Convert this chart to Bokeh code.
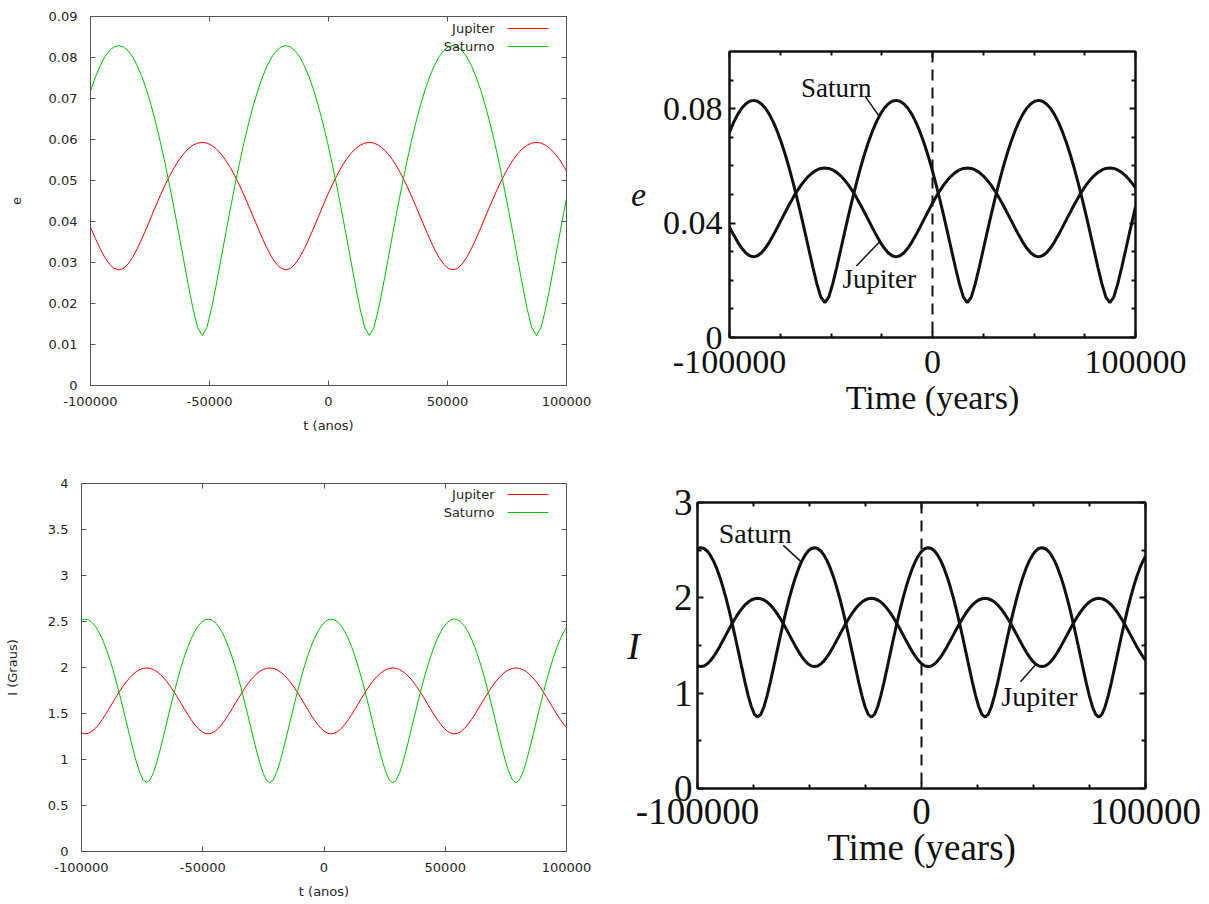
from bokeh.plotting import figure
from bokeh.models import (LinearAxis, FixedTicker, PrintfTickFormatter, Range1d,
                          Label, Arrow, Span)
from bokeh.layouts import column, row
from bokeh.embed import file_html
from bokeh.resources import INLINE

# ---------------- data ----------------
# eccentricity panel: time (years)
e_t = [-100000, -99850, -97900, -95950, -94000, -92050, -90100, -88150,
       -86200, -84250, -82300, -80350, -78400, -76450, -74500, -72550, -70600, -68650,
       -66700, -64750, -62800, -60850, -58900, -56950, -55000, -53050,
       -51100, -49150, -47200, -45250, -43300, -41350, -39400, -37450, -35500, -33550,
       -31600, -29650, -27700, -25750, -23800, -21850, -19900, -17950,
       -16000, -14050, -12100, -10150, -8200, -6250, -4300, -2350, -400, 1550,
       3500, 5450, 7400, 9350, 11300, 13250, 15200, 17150,
       19100, 21050, 23000, 24950, 26900, 28850, 30800, 32750, 34700, 36650,
       38600, 40550, 42500, 44450, 46400, 48350, 50300, 52250,
       54200, 56150, 58100, 60050, 62000, 63950, 65900, 67850, 69800, 71750,
       73700, 75650, 77600, 79550, 81500, 83450, 85400, 87350,
       89300, 91250, 93200, 95150, 97100, 99050, 100000]

e_jupiter = [0.03862,
             0.03841, 0.0358, 0.03337, 0.03127, 0.02962, 0.02857, 0.0282,
             0.02857, 0.02962, 0.03127, 0.03337, 0.0358, 0.03841, 0.04112, 0.04381, 0.04643,
             0.04891, 0.0512, 0.05326, 0.05505, 0.05655, 0.05774, 0.0586, 0.05912, 0.0593,
             0.05912, 0.0586, 0.05774, 0.05655, 0.05505, 0.05326, 0.0512, 0.04891, 0.04643,
             0.04381, 0.04112, 0.03841, 0.0358, 0.03337, 0.03127, 0.02962, 0.02857,
             0.0282,
             0.02857, 0.02962, 0.03127, 0.03337, 0.0358, 0.03841, 0.04112, 0.04381, 0.04643,
             0.04891, 0.0512, 0.05326, 0.05505, 0.05655, 0.05774, 0.0586, 0.05912, 0.0593,
             0.05912, 0.0586, 0.05774, 0.05655, 0.05505, 0.05326, 0.0512, 0.04891, 0.04643,
             0.04381, 0.04112, 0.03841, 0.0358, 0.03337, 0.03127, 0.02962, 0.02857,
             0.0282,
             0.02857, 0.02962, 0.03127, 0.03337, 0.0358, 0.03841, 0.04112, 0.04381, 0.04643,
             0.04891, 0.0512, 0.05326, 0.05505, 0.05655, 0.05774, 0.0586, 0.05912, 0.0593,
             0.05912, 0.0586, 0.05774, 0.05655, 0.05505, 0.05326,
             0.05228]

e_saturn = [0.07178,
            0.07205, 0.07531, 0.07801, 0.08014, 0.08167, 0.08259, 0.0829,
            0.08259, 0.08167, 0.08014, 0.07801, 0.07531, 0.07205, 0.06827, 0.06399, 0.05925,
            0.0541, 0.04859, 0.04277, 0.03674, 0.03058, 0.02448, 0.01875, 0.01414, 0.0122,
            0.01414, 0.01875, 0.02448, 0.03058, 0.03674, 0.04277, 0.04859, 0.0541, 0.05925,
            0.06399, 0.06827, 0.07205, 0.07531, 0.07801, 0.08014, 0.08167, 0.08259,
            0.0829,
            0.08259, 0.08167, 0.08014, 0.07801, 0.07531, 0.07205, 0.06827, 0.06399, 0.05925,
            0.0541, 0.04859, 0.04277, 0.03674, 0.03058, 0.02448, 0.01875, 0.01414, 0.0122,
            0.01414, 0.01875, 0.02448, 0.03058, 0.03674, 0.04277, 0.04859, 0.0541, 0.05925,
            0.06399, 0.06827, 0.07205, 0.07531, 0.07801, 0.08014, 0.08167, 0.08259,
            0.0829,
            0.08259, 0.08167, 0.08014, 0.07801, 0.07531, 0.07205, 0.06827, 0.06399, 0.05925,
            0.0541, 0.04859, 0.04277, 0.03674, 0.03058, 0.02448, 0.01875, 0.01414, 0.0122,
            0.01414, 0.01875, 0.02448, 0.03058, 0.03674, 0.04277,
            0.04566]

# inclination panel: time (years)
i_t = [-100000, -99930, -98520, -97110, -95700, -94290, -92880, -91470, -90060, -88650,
       -87240, -85830, -84420, -83010, -81600, -80190, -78780, -77370, -75960, -74550,
       -73140, -71730, -70320, -68910, -67500, -66090, -64680, -63270, -61860, -60450,
       -59040, -57630, -56220, -54810, -53400, -51990, -50580, -49170, -47760, -46350,
       -44940, -43530, -42120, -40710, -39300, -37890, -36480, -35070, -33660, -32250,
       -30840, -29430, -28020, -26610, -25200, -23790, -22380, -20970, -19560, -18150,
       -16740, -15330, -13920, -12510, -11100, -9690, -8280, -6870, -5460, -4050,
       -2640, -1230, 180, 1590, 3000, 4410, 5820, 7230, 8640, 10050,
       11460, 12870, 14280, 15690, 17100, 18510, 19920, 21330, 22740, 24150,
       25560, 26970, 28380, 29790, 31200, 32610, 34020, 35430, 36840, 38250,
       39660, 41070, 42480, 43890, 45300, 46710, 48120, 49530, 50940, 52350,
       53760, 55170, 56580, 57990, 59400, 60810, 62220, 63630, 65040, 66450,
       67860, 69270, 70680, 72090, 73500, 74910, 76320, 77730, 79140, 80550,
       81960, 83370, 84780, 86190, 87600, 89010, 90420, 91830, 93240, 94650,
       96060, 97470, 98880, 100000]

i_jupiter = [1.2867, 1.2859, 1.279,
             1.2859, 1.3063, 1.339, 1.3821, 1.4334, 1.4906, 1.5515, 1.6138, 1.6757,
             1.7354, 1.7913, 1.8423, 1.8872, 1.9251, 1.9553, 1.9772, 1.9905, 1.995,
             1.9905, 1.9772, 1.9553, 1.9251, 1.8872, 1.8423, 1.7913, 1.7354, 1.6757,
             1.6138, 1.5515, 1.4906, 1.4334, 1.3821, 1.339, 1.3063, 1.2859,
             1.279,
             1.2859, 1.3063, 1.339, 1.3821, 1.4334, 1.4906, 1.5515, 1.6138, 1.6757,
             1.7354, 1.7913, 1.8423, 1.8872, 1.9251, 1.9553, 1.9772, 1.9905, 1.995,
             1.9905, 1.9772, 1.9553, 1.9251, 1.8872, 1.8423, 1.7913, 1.7354, 1.6757,
             1.6138, 1.5515, 1.4906, 1.4334, 1.3821, 1.339, 1.3063, 1.2859,
             1.279,
             1.2859, 1.3063, 1.339, 1.3821, 1.4334, 1.4906, 1.5515, 1.6138, 1.6757,
             1.7354, 1.7913, 1.8423, 1.8872, 1.9251, 1.9553, 1.9772, 1.9905, 1.995,
             1.9905, 1.9772, 1.9553, 1.9251, 1.8872, 1.8423, 1.7913, 1.7354, 1.6757,
             1.6138, 1.5515, 1.4906, 1.4334, 1.3821, 1.339, 1.3063, 1.2859,
             1.279,
             1.2859, 1.3063, 1.339, 1.3821, 1.4334, 1.4906, 1.5515, 1.6138, 1.6757,
             1.7354, 1.7913, 1.8423, 1.8872, 1.9251, 1.9553, 1.9772, 1.9905, 1.995,
             1.9905, 1.9772, 1.9553, 1.9251, 1.8872, 1.8423, 1.7913, 1.7354, 1.6757,
             1.6138, 1.5515, 1.4906, 1.4334, 1.3821,
             1.3471]

i_saturn = [2.5163, 2.5172, 2.526,
            2.5172, 2.491, 2.4476, 2.3874, 2.3111, 2.2193, 2.1132, 1.9939, 1.8628,
            1.7218, 1.5731, 1.4194, 1.2646, 1.1138, 0.9744, 0.8573, 0.777, 0.748,
            0.777, 0.8573, 0.9744, 1.1138, 1.2646, 1.4194, 1.5731, 1.7218, 1.8628,
            1.9939, 2.1132, 2.2193, 2.3111, 2.3874, 2.4476, 2.491, 2.5172,
            2.526,
            2.5172, 2.491, 2.4476, 2.3874, 2.3111, 2.2193, 2.1132, 1.9939, 1.8628,
            1.7218, 1.5731, 1.4194, 1.2646, 1.1138, 0.9744, 0.8573, 0.777, 0.748,
            0.777, 0.8573, 0.9744, 1.1138, 1.2646, 1.4194, 1.5731, 1.7218, 1.8628,
            1.9939, 2.1132, 2.2193, 2.3111, 2.3874, 2.4476, 2.491, 2.5172,
            2.526,
            2.5172, 2.491, 2.4476, 2.3874, 2.3111, 2.2193, 2.1132, 1.9939, 1.8628,
            1.7218, 1.5731, 1.4194, 1.2646, 1.1138, 0.9744, 0.8573, 0.777, 0.748,
            0.777, 0.8573, 0.9744, 1.1138, 1.2646, 1.4194, 1.5731, 1.7218, 1.8628,
            1.9939, 2.1132, 2.2193, 2.3111, 2.3874, 2.4476, 2.491, 2.5172,
            2.526,
            2.5172, 2.491, 2.4476, 2.3874, 2.3111, 2.2193, 2.1132, 1.9939, 1.8628,
            1.7218, 1.5731, 1.4194, 1.2646, 1.1138, 0.9744, 0.8573, 0.777, 0.748,
            0.777, 0.8573, 0.9744, 1.1138, 1.2646, 1.4194, 1.5731, 1.7218, 1.8628,
            1.9939, 2.1132, 2.2193, 2.3111, 2.3874,
            2.4366]

assert len(e_t) == len(e_jupiter) == len(e_saturn), (len(e_t), len(e_jupiter), len(e_saturn))
assert len(i_t) == len(i_jupiter) == len(i_saturn), (len(i_t), len(i_jupiter), len(i_saturn))

# tick values
gp_x_ticks = [-100000, -50000, 0, 50000, 100000]
gp_e_ticks = [0, 0.01, 0.02, 0.03, 0.04, 0.05, 0.06, 0.07, 0.08, 0.09]
gp_i_ticks = [0, 0.5, 1, 1.5, 2, 2.5, 3, 3.5, 4]
sc_x_ticks = [-100000, 0, 100000]
sc_x_minor = [-75000, -50000, -25000, 25000, 50000, 75000]
sc_e_ticks = [0, 0.04, 0.08]
sc_e_minor = [0.01, 0.02, 0.03, 0.05, 0.06, 0.07, 0.09]
sc_i_ticks = [0, 1, 2, 3]
sc_i_minor = [0.5, 1.5, 2.5]

series_names = ["Jupiter", "Saturno"]
paper_names = ["Jupiter", "Saturn"]

GP_TEXT = "#262626"
GP_AXIS = "#555555"
RED = "#ff0000"
GREEN = "#00c000"
INK = "#111111"
SERIF = "Liberation Serif"


def base_fig(fw, fh, ml, mr, mt, mb, yr):
    p = figure(frame_width=fw, frame_height=fh,
               min_border_left=ml, min_border_right=mr,
               min_border_top=mt, min_border_bottom=mb,
               x_range=Range1d(-100000, 100000), y_range=Range1d(*yr),
               x_axis_type=None, y_axis_type=None,
               output_backend="svg", toolbar_location=None)
    p.background_fill_color = "white"
    p.border_fill_color = "white"
    return p


def hide_labels(ax):
    ax.major_label_text_color = None
    ax.major_label_text_font_size = "1px"
    ax.major_label_standoff = 0


def gp_figure(fw, fh, ml, mr, mt, mb, yr, yticks, ylabel):
    p = base_fig(fw, fh, ml, mr, mt, mb, yr)
    p.outline_line_color = GP_AXIS
    p.outline_line_width = 1
    fmt = PrintfTickFormatter(format="%g")
    xb = LinearAxis(ticker=FixedTicker(ticks=gp_x_ticks), formatter=fmt, axis_label="t (anos)")
    yl = LinearAxis(ticker=FixedTicker(ticks=yticks), formatter=fmt, axis_label=ylabel)
    xa = LinearAxis(ticker=FixedTicker(ticks=gp_x_ticks), formatter=fmt)
    yr_ = LinearAxis(ticker=FixedTicker(ticks=yticks), formatter=fmt)
    for ax in (xb, yl, xa, yr_):
        ax.axis_line_color = GP_AXIS
        ax.major_tick_line_color = GP_AXIS
        ax.major_tick_in = 5
        ax.major_tick_out = 0
        ax.minor_tick_line_color = None
        ax.major_label_text_font = "DejaVu Sans"
        ax.major_label_text_font_size = "13px"
        ax.major_label_text_color = GP_TEXT
        ax.axis_label_text_font = "DejaVu Sans"
        ax.axis_label_text_font_size = "13px"
        ax.axis_label_text_font_style = "normal"
        ax.axis_label_text_color = GP_TEXT
    hide_labels(xa)
    hide_labels(yr_)
    xb.major_label_standoff = 11
    xb.axis_label_standoff = 9
    yl.major_label_standoff = 13
    yl.axis_label_standoff = 25
    p.add_layout(xb, "below")
    p.add_layout(yl, "left")
    p.add_layout(xa, "above")
    p.add_layout(yr_, "right")
    return p


def gp_legend(p, tx, ly, lx0, lx1):
    for name, color, yy in ((series_names[0], RED, ly[0]), (series_names[1], GREEN, ly[1])):
        p.add_layout(Label(x=tx, y=yy, x_units="screen", y_units="screen", text=name,
                           text_align="right", text_baseline="middle",
                           text_font="DejaVu Sans", text_font_size="13px",
                           text_color=GP_TEXT))
        p.add_layout(Arrow(x_start=lx0, y_start=yy, x_end=lx1, y_end=yy,
                           start_units="screen", end_units="screen",
                           start=None, end=None, line_color=color, line_width=1))


def sc_figure(fw, fh, ml, mr, mt, mb, yr, yticks, yminor, ylabel, fsize, lsize,
              xstand, xlstand, ystand, ylstand):
    p = base_fig(fw, fh, ml, mr, mt, mb, yr)
    p.outline_line_color = INK
    p.outline_line_width = 2
    fmt = PrintfTickFormatter(format="%g")
    xb = LinearAxis(ticker=FixedTicker(ticks=sc_x_ticks, minor_ticks=sc_x_minor),
                    formatter=fmt, axis_label="Time (years)")
    yl = LinearAxis(ticker=FixedTicker(ticks=yticks, minor_ticks=yminor),
                    formatter=fmt, axis_label=ylabel)
    xa = LinearAxis(ticker=FixedTicker(ticks=sc_x_ticks, minor_ticks=sc_x_minor), formatter=fmt)
    yr_ = LinearAxis(ticker=FixedTicker(ticks=yticks, minor_ticks=yminor), formatter=fmt)
    for ax in (xb, yl, xa, yr_):
        ax.axis_line_color = INK
        ax.axis_line_width = 2
        ax.major_tick_line_color = INK
        ax.major_tick_line_width = 2
        ax.major_tick_in = 6
        ax.major_tick_out = 0
        ax.minor_tick_line_color = INK
        ax.minor_tick_line_width = 2
        ax.minor_tick_in = 4
        ax.minor_tick_out = 0
        ax.major_label_text_font = SERIF
        ax.major_label_text_font_size = fsize
        ax.major_label_text_color = INK
        ax.axis_label_text_font = SERIF
        ax.axis_label_text_font_size = fsize
        ax.axis_label_text_font_style = "normal"
        ax.axis_label_text_color = INK
    hide_labels(xa)
    hide_labels(yr_)
    xb.major_label_standoff = xstand
    xb.axis_label_standoff = xlstand
    yl.major_label_standoff = ystand
    yl.axis_label_standoff = ylstand
    yl.axis_label_orientation = "horizontal"
    yl.axis_label_text_font_style = "italic"
    yl.axis_label_text_font_size = lsize
    p.add_layout(xb, "below")
    p.add_layout(yl, "left")
    p.add_layout(xa, "above")
    p.add_layout(yr_, "right")
    p.add_layout(Span(location=0, dimension="height", line_color=INK,
                      line_width=2, line_dash="11 7"))
    return p


def sc_note(p, text, tx, ty, x0, y0, x1, y1, size):
    p.add_layout(Label(x=tx, y=ty, text=text, text_align="center",
                       text_baseline="middle", text_font=SERIF,
                       text_font_size=size, text_color=INK))
    p.add_layout(Arrow(x_start=x0, y_start=y0, x_end=x1, y_end=y1,
                       start=None, end=None, line_color=INK, line_width=1.5))


# ---------------- top-left: e (gnuplot style) ----------------
p1 = gp_figure(476, 369, 90, 34, 16, 70, (0, 0.09), gp_e_ticks, "e")
p1.line(e_t, e_jupiter, line_color=RED, line_width=1)
p1.line(e_t, e_saturn, line_color=GREEN, line_width=1)
gp_legend(p1, 404, (357, 339), 417, 458)

# ---------------- bottom-left: I (gnuplot style) ----------------
p3 = gp_figure(485, 368, 81, 34, 28, 53, (0, 4), gp_i_ticks, "I (Graus)")
p3.line(i_t, i_jupiter, line_color=RED, line_width=1)
p3.line(i_t, i_saturn, line_color=GREEN, line_width=1)
gp_legend(p3, 413, (357, 339), 426, 467)

# ---------------- top-right: e (paper figure) ----------------
p2 = sc_figure(406, 286, 129, 74, 51, 118, (0, 0.1), sc_e_ticks, sc_e_minor, "e",
               "34px", "34px", 13, 3, 7, 14)
p2.line(e_t, e_jupiter, line_color=INK, line_width=3)
p2.line(e_t, e_saturn, line_color=INK, line_width=3)
sc_note(p2, paper_names[1], -47400, 0.0874, -33300, 0.0845, -26500, 0.0776, "27px")
sc_note(p2, paper_names[0], -26200, 0.0205, -37500, 0.025, -26000, 0.0335, "27px")

# ---------------- bottom-right: I (paper figure) ----------------
p4 = sc_figure(448, 286, 97, 64, 47, 116, (0, 3), sc_i_ticks, sc_i_minor, "I",
               "37px", "38px", 10, 0, 5, 31)
p4.line(i_t, i_jupiter, line_color=INK, line_width=3)
p4.line(i_t, i_saturn, line_color=INK, line_width=3)
sc_note(p4, paper_names[1], -74200, 2.68, -61700, 2.55, -53800, 2.38, "28px")
sc_note(p4, paper_names[0], 52650, 0.96, 44200, 1.12, 51000, 1.30, "28px")

# each figure wrapped on its own so that the frames are not aligned with each other
layout = column(row(column(p1), column(p2)), row(column(p3), column(p4)))
open("out.html", "w").write(file_html(layout, INLINE))
